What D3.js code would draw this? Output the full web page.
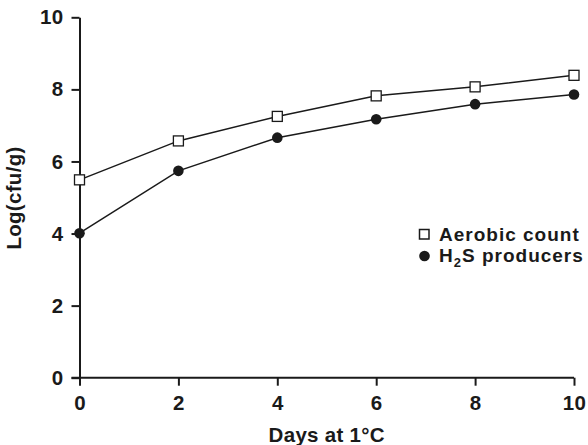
<!DOCTYPE html>
<html>
<head>
<meta charset="utf-8">
<script src="https://cdn.jsdelivr.net/npm/d3@7"></script>
<style>
body { margin: 0; background: #fff; }
text { font-family: "Liberation Sans", Arial, sans-serif; font-weight: bold; fill: #1a1a1a; letter-spacing: 0.3px; }
</style>
</head>
<body>
<svg></svg>
<script>
// values
const days = [0, 2, 4, 6, 8, 10]
const aerobic = [5.49, 6.57, 7.25, 7.82, 8.07, 8.39]
const h2s = [4.01, 5.74, 6.66, 7.17, 7.59, 7.86]
const xTicks = [0, 2, 4, 6, 8, 10]
const yTicks = [0, 2, 4, 6, 8, 10]

const fontSize = 20.5

const svg = d3.select("svg")
	.attr("width", 588)
	.attr("height", 445)

const scaleX = d3.scaleLinear()
	.domain([0, 10])
	.range([79.5, 574])

const scaleY = d3.scaleLinear()
	.domain([0, 10])
	.range([377.7, 17.3])

// axes
const xAxis = svg.append("g")
	.attr("transform", `translate(0,${scaleY(0)})`)
	.call(d3.axisBottom(scaleX).tickValues(xTicks).tickSize(8).tickPadding(10).tickSizeOuter(0))
const yAxis = svg.append("g")
	.attr("transform", `translate(${scaleX(0)},0)`)
	.call(d3.axisLeft(scaleY).tickValues(yTicks).tickSize(8).tickPadding(8).tickSizeOuter(0))

// extend x baseline to left tick
xAxis.select(".domain").attr("d", `M${scaleX(0) - 8},0H${scaleX(10)}`)

svg.selectAll(".domain, .tick line")
	.attr("stroke", "#1a1a1a")
	.attr("stroke-width", 2)
svg.selectAll(".tick text")
	.attr("font-size", fontSize)
	.attr("font-family", "Liberation Sans, Arial, sans-serif")
	.attr("font-weight", "bold")
	.attr("fill", "#1a1a1a")

// titles
svg.append("text")
	.attr("x", scaleX(5))
	.attr("y", 442)
	.attr("text-anchor", "middle")
	.attr("font-size", fontSize)
	.text("Days at 1°C")

svg.append("text")
	.attr("transform", `translate(21,198) rotate(-90)`)
	.attr("text-anchor", "middle")
	.attr("font-size", fontSize)
	.text("Log(cfu/g)")

// lines
const line = d3.line()
	.x((d, i) => scaleX(days[i]))
	.y(d => scaleY(d))

svg.append("path")
	.datum(aerobic)
	.attr("d", line)
	.attr("fill", "none")
	.attr("stroke", "#1a1a1a")
	.attr("stroke-width", 1.5)

svg.append("path")
	.datum(h2s)
	.attr("d", line)
	.attr("fill", "none")
	.attr("stroke", "#1a1a1a")
	.attr("stroke-width", 1.5)

svg.selectAll("circle.h2s")
	.data(h2s)
	.enter()
	.append("circle")
	.attr("class", "h2s")
	.attr("cx", (d, i) => scaleX(days[i]))
	.attr("cy", d => scaleY(d))
	.attr("r", 5.3)
	.attr("fill", "#1a1a1a")

svg.selectAll("rect.aer")
	.data(aerobic)
	.enter()
	.append("rect")
	.attr("class", "aer")
	.attr("x", (d, i) => scaleX(days[i]) - 5)
	.attr("y", d => scaleY(d) - 5)
	.attr("width", 10)
	.attr("height", 10)
	.attr("fill", "#fff")
	.attr("stroke", "#1a1a1a")
	.attr("stroke-width", 1.3)

// legend (slightly smaller font with wider spacing so the two rows don't collide)
const legendFont = 19
const legend = svg.append("g")
legend.append("rect")
	.attr("x", 419.5)
	.attr("y", 229.5)
	.attr("width", 9.5)
	.attr("height", 9.5)
	.attr("fill", "#fff")
	.attr("stroke", "#1a1a1a")
	.attr("stroke-width", 1.5)
legend.append("text")
	.attr("x", 439)
	.attr("y", 240.5)
	.attr("font-size", legendFont)
	.style("letter-spacing", "1px")
	.text("Aerobic count")

legend.append("circle")
	.attr("cx", 424.5)
	.attr("cy", 256)
	.attr("r", 5.3)
	.attr("fill", "#1a1a1a")
const t2 = legend.append("text")
	.attr("x", 439)
	.attr("y", 262)
	.attr("font-size", legendFont)
	.style("letter-spacing", "1px")
t2.append("tspan").text("H")
t2.append("tspan").attr("font-size", 13).attr("dy", 5).text("2")
t2.append("tspan").attr("dy", -5).text("S producers")
</script>
</body>
</html>
